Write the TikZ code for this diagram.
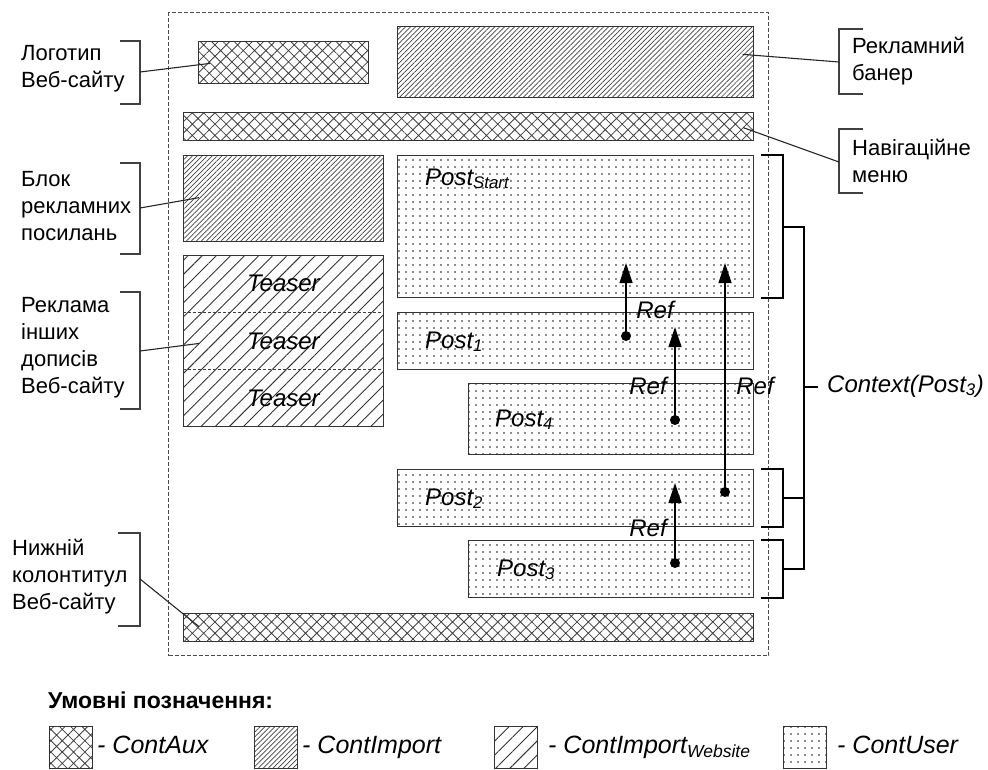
\documentclass[tikz,border=0pt]{standalone}
\usepackage{fontspec}
\setmainfont{Liberation Sans}
\usetikzlibrary{positioning,calc,patterns.meta,arrows.meta}

\begin{document}
\begin{tikzpicture}[x=1pt, y=-1pt,
        lbl/.style={font=\fontsize{22}{27}\selectfont, align=left, inner sep=0pt, anchor=west},
        it/.style={font=\fontsize{24}{28}\selectfont\itshape, inner sep=0pt},
        leg/.style={font=\fontsize{25}{28}\selectfont\itshape, inner sep=0pt, anchor=base west},
        sz/.style 2 args={minimum width=#1pt, minimum height=#2pt},
        blk/.style={draw=black!80, line width=1.3pt, inner sep=0pt, anchor=north west},
        aux/.style={blk, pattern={Hatch[angle=45,distance=8pt,line width=0.8pt]}, pattern color=black!75},
        imp/.style={blk, pattern={Lines[angle=45,distance=3.5pt,line width=0.7pt]}, pattern color=black!75},
        impweb/.style={blk, pattern={Lines[angle=45,distance=10pt,line width=0.9pt]}, pattern color=black!80},
        usr/.style={blk, pattern={Dots[distance=7pt,radius=0.9pt]}, pattern color=black!90},
        lead/.style={draw=black!85, line width=1.1pt},
        brk/.style={draw=black!75, line width=1.1pt},
        cbrk/.style={draw=black, line width=1.8pt},
        refarrow/.style={line width=1.2pt, -{Triangle[width=13pt,length=20pt]}},
    ]
    \useasboundingbox (0,0) rectangle (988,769);
    % page frame
    \node[draw=black!70, dash pattern=on 4pt off 2pt, line width=1.2pt, inner sep=0pt,
        anchor=north west, sz={600}{643}] (page) at (168,12) {};
    % header and menu
    \node[aux, sz={170}{42}] (logo) at (198,41) {};
    \node[imp, sz={356}{71}] (banner) at (397,26) {};
    \node[aux, sz={570}{28}] (nav) at (183,112) {};
    % left column
    \node[imp, sz={200}{86}] (adblock) at (183,155) {};
    \node[impweb, sz={200}{171}] (teasers) at (183,255) {};
    \draw[black!75, line width=0.7pt, dash pattern=on 3pt off 2pt]
        ($(teasers.north west)!1/3!(teasers.south west)$) -- ($(teasers.north east)!1/3!(teasers.south east)$)
        ($(teasers.north west)!2/3!(teasers.south west)$) -- ($(teasers.north east)!2/3!(teasers.south east)$);
    \foreach \f/\n in {0.1667/1, 0.5/2, 0.8333/3}
        \node[it] (teaser\n) at ($(teasers.north)!\f!(teasers.south)$) {Teaser};
    % posts
    \node[usr, sz={356}{142}] (pstart) at (397,155) {};
    \node[usr, sz={356}{57}] (p1) at (397,312) {};
    \node[usr, sz={285}{71}] (p4) at (468,383) {};
    \node[usr, sz={356}{57}] (p2) at (397,469) {};
    \node[usr, sz={285}{57}] (p3) at (468,540) {};
    \node[aux, sz={570}{28}] (footer) at (183,613) {};
    \node[it, anchor=base west] (tstart) at (425,185) {Post\textsubscript{Start}};
    \node[it, anchor=base west] (t1) at (425,348) {Post\textsubscript{1}};
    \node[it, anchor=base west] (t4) at (495,426) {Post\textsubscript{4}};
    \node[it, anchor=base west] (t2) at (425,505) {Post\textsubscript{2}};
    \node[it, anchor=base west] (t3) at (497,576) {Post\textsubscript{3}};
    % references between posts
    \foreach \i/\xs/\ys/\ye in {1/626/336/263, 2/675/420/327, 3/725/492/263, 4/675/563/483} {
        \coordinate (ref\i s) at (\xs,\ys);
        \coordinate (ref\i e) at (\xs,\ye);
        \fill (ref\i s) circle (5pt);
        \draw[refarrow] (ref\i s) -- (ref\i e);
    }
    \node[it] (refl1) at (655,310) {Ref};
    \node[it] (refl2) at (648,386) {Ref};
    \node[it] (refl3) at (755,386) {Ref};
    \node[it] (refl4) at (648,528) {Ref};
    % left labels
    \node[lbl] (logolbl) at (21,69) {Логотип\\Веб-сайту};
    \draw[brk] (120,41) -- (140,41) -- (140,104) -- (120,104);
    \coordinate (logobrk) at (140,72);
    \draw[lead] (logobrk) -- ($(logo.west)+(12,1)$);
    \node[lbl] (adlbl) at (21,206) {Блок\\рекламних\\посилань};
    \draw[brk] (120,163) -- (140,163) -- (140,254) -- (120,254);
    \coordinate (adbrk) at (140,208);
    \draw[lead] (adbrk) -- ($(adblock.west)+(16,-1)$);
    \node[lbl] (teaserlbl) at (21,348) {Реклама\\інших\\дописів\\Веб-сайту};
    \draw[brk] (120,292) -- (140,292) -- (140,409) -- (120,409);
    \coordinate (teaserbrk) at (140,351);
    \draw[lead] (teaserbrk) -- ($(teasers.west)+(16,2.5)$);
    \node[lbl] (footlbl) at (12,577) {Нижній\\колонтитул\\Веб-сайту};
    \draw[brk] (118,533) -- (140,533) -- (140,626) -- (118,626);
    \coordinate (footbrk) at (140,579);
    \draw[lead] (footbrk) -- ($(footer.west)+(16,-1)$);
    % right labels
    \node[lbl] (bannerlbl) at (852,61) {Рекламний\\банер};
    \draw[brk] (863,29) -- (839,29) -- (839,94) -- (863,94);
    \coordinate (bannerbrk) at (839,62);
    \draw[lead] ($(banner.east)+(-11,-7.5)$) -- (bannerbrk);
    \node[lbl] (navlbl) at (852,161) {Навігаційне\\меню};
    \draw[brk] (863,129) -- (839,129) -- (839,193) -- (863,193);
    \coordinate (navbrk) at (839,162);
    \draw[lead] ($(nav.east)+(-11,1)$) -- (navbrk);
    % context of Post 3
    \draw[cbrk] ($(pstart.north east)+(7,0)$) -| ($(pstart.south east)+(29,0)$) -- ($(pstart.south east)+(7,0)$);
    \draw[cbrk] ($(p2.north east)+(7,0)$) -| ($(p2.south east)+(29,0)$) -- ($(p2.south east)+(7,0)$);
    \draw[cbrk] ($(p3.north east)+(7,0)$) -| ($(p3.south east)+(29,0)$) -- ($(p3.south east)+(7,0)$);
    \coordinate (ctx1) at ($(pstart.east)+(29,0)$);
    \coordinate (ctx2) at ($(p2.east)+(29,0)$);
    \coordinate (ctx3) at ($(p3.east)+(29,0)$);
    \draw[cbrk] (ctx1) -- ++(21,0) |- (ctx3);
    \draw[cbrk] (ctx2) -- ++(21,0);
    \node[it, anchor=west] (ctxlbl) at (827,386) {Context(Post\textsubscript{3})};
    \coordinate (ctxtick) at (803,387);
    \draw[cbrk, shorten >=9pt] (ctxtick) -- (ctxtick -| ctxlbl.west);
    % legend
    \node[font=\fontsize{23}{28}\selectfont\bfseries, inner sep=0pt, anchor=west] (legtitle) at (48,700) {Умовні позначення:};
    \node[aux, sz={43}{42}] (legaux) at (49,726) {};
    \node[leg] (legauxt) at (97,753) {- ContAux};
    \node[imp, sz={43}{42}] (legimp) at (254,726) {};
    \node[leg] (legimpt) at (302,753) {- ContImport};
    \node[impweb, sz={43}{42}] (legweb) at (494,726) {};
    \node[leg] (legwebt) at (548,753) {- ContImport\textsubscript{Website}};
    \node[usr, sz={43}{42}] (legusr) at (783,726) {};
    \node[leg] (legusrt) at (837,753) {- ContUser};
\end{tikzpicture}
\end{document}
